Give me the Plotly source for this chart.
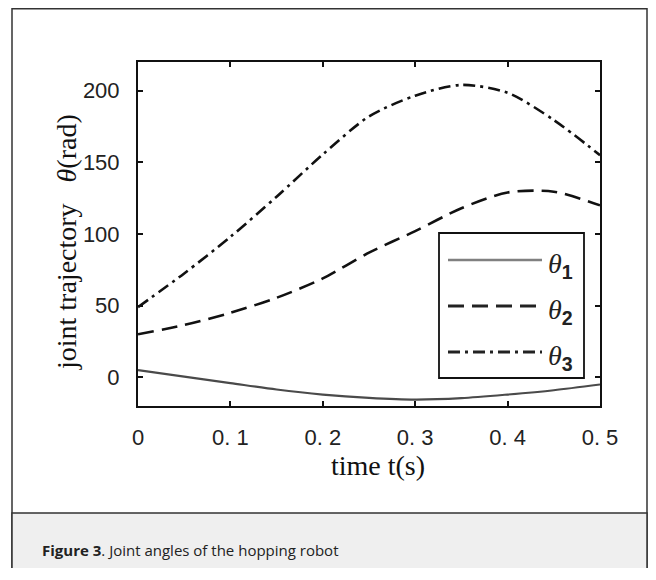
import plotly.graph_objects as go

# ---- data ----
t = [0.0, 0.05, 0.1, 0.15, 0.2, 0.25, 0.3, 0.35, 0.4, 0.45, 0.5]
theta1 = [5, 0.5, -4, -8.5, -12, -14.3, -15.5, -14.5, -12, -9, -5]
theta2 = [30, 36.5, 45, 55.5, 69, 87, 102, 118, 129, 129.5, 120]
theta3 = [49, 72.5, 98, 126, 155.5, 182, 196.5, 204, 198.5, 179.5, 155]
x_ticks = [0, 0.1, 0.2, 0.3, 0.4, 0.5]
x_tick_text = ["0", "0. 1", "0. 2", "0. 3", "0. 4", "0. 5"]
y_ticks = [0, 50, 100, 150, 200]
legend_names = ["1", "2", "3"]

OFF = 8  # page body margin
W, H = 640, 560
# plot area, in screenshot pixels
L, R, T, B = 138, 600, 62, 406


def px(x):
    return (x - L) / (R - L)


def py(y):
    return (B - y) / (B - T)


fig = go.Figure()
styles = [
    dict(color="#4a4a4a", width=2.2, dash="solid"),
    dict(color="#111111", width=2.6, dash="16px,8px"),
    dict(color="#111111", width=2.6, dash="12px,5px,3px,5px"),
]
for vals, st, nm in zip([theta1, theta2, theta3], styles, legend_names):
    fig.add_trace(go.Scatter(x=t, y=vals, mode="lines", name="θ" + nm,
                             line=dict(shape="spline", smoothing=0.8, **st),
                             showlegend=False, hoverinfo="skip"))

shapes = []
annotations = []
# outer frame and caption band
shapes.append(dict(type="rect", xref="paper", yref="paper", x0=px(12), x1=px(647),
                   y0=py(8.8), y1=py(600), line=dict(color="#333333", width=1.5),
                   fillcolor="rgba(0,0,0,0)", layer="below"))
shapes.append(dict(type="rect", xref="paper", yref="paper", x0=px(12), x1=px(647),
                   y0=py(513), y1=py(600), line=dict(color="#333333", width=1.5),
                   fillcolor="#efefef", layer="below"))
# legend box
shapes.append(dict(type="rect", xref="paper", yref="paper", x0=px(439), x1=px(584),
                   y0=py(233), y1=py(378), line=dict(color="#111111", width=1.8),
                   fillcolor="white", layer="above"))
rows = [260, 306, 352]
leg_colors = ["#808080", "#222222", "#222222"]
for yy, st, col, nm in zip(rows, styles, leg_colors, legend_names):
    shapes.append(dict(type="line", xref="paper", yref="paper", x0=px(448), x1=px(542),
                       y0=py(yy), y1=py(yy), line=dict(color=col, width=st["width"] + 0.4,
                                                      dash=st["dash"]), layer="above"))
    annotations.append(dict(xref="paper", yref="paper", x=px(546), y=py(yy + 5),
                            xanchor="left", yanchor="middle", showarrow=False,
                            text="<i>θ</i><sub><span style='font-family:Liberation Sans'><b>" + nm + "</b></span></sub>",
                            font=dict(family="Liberation Serif", size=28, color="#222222")))

# axis titles
annotations.append(dict(xref="paper", yref="paper", x=px(378), y=py(465),
                        xanchor="center", yanchor="middle", showarrow=False,
                        text="time t(s)", font=dict(family="Liberation Serif", size=28, color="#111111")))
annotations.append(dict(xref="paper", yref="paper", x=px(66), y=py(242),
                        xanchor="center", yanchor="middle", showarrow=False, textangle=-90,
                        text="joint trajectory\u00a0\u00a0\u00a0<i>θ</i>(rad)",
                        font=dict(family="Liberation Serif", size=28, color="#111111")))
# caption
annotations.append(dict(xref="paper", yref="paper", x=px(40), y=py(550),
                        xanchor="left", yanchor="middle", showarrow=False,
                        text="<b>Figure 3</b>. Joint angles of the hopping robot",
                        font=dict(family="Open Sans", size=15, color="#222222")))

axis_common = dict(showline=True, linecolor="#111111", linewidth=2, mirror="ticks",
                   ticks="inside", ticklen=5, tickwidth=1.5, tickcolor="#111111",
                   showgrid=False, zeroline=False,
                   tickfont=dict(family="Liberation Sans", size=22, color="#222222"))

fig.update_layout(
    width=W, height=H,
    margin=dict(l=L - OFF, r=W - (R - OFF), t=T - OFF, b=H - (B - OFF)),
    paper_bgcolor="white", plot_bgcolor="white",
    xaxis=dict(range=[0, 0.5], tickvals=x_ticks, ticktext=x_tick_text,
               ticklabelstandoff=11, **axis_common),
    yaxis=dict(range=[-20, 220], tickvals=y_ticks, ticklabelstandoff=12, **axis_common),
    shapes=shapes, annotations=annotations,
)

fig.write_html("out.html")
